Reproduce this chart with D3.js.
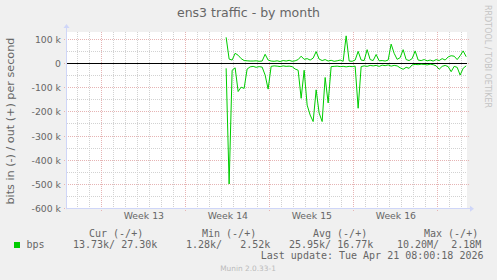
<!DOCTYPE html>
<html lang="en">
<head>
<meta charset="utf-8">
<title>ens3 traffic - by month</title>
<script src="https://d3js.org/d3.v7.min.js"></script>
<style>
  body { margin: 0; background: #f0f0f0; }
  svg { display: block; }
  text { font-family: "DejaVu Sans", sans-serif; fill: #666; }
  .mono { font-family: "DejaVu Sans Mono", monospace; font-size: 10px; fill: #666; }
</style>
</head>
<body>
<div id="chart"></div>
<script>

// data: k bits per second, one sample every 6 hours
// days counted from the start of week 13
var weekLabels = ["Week 13", "Week 14", "Week 15", "Week 16"];
var weekStarts = [0, 7, 14, 21, 28];
var yTicks = [100, 0, -100, -200, -300, -400, -500, -600];
var firstSampleDay = 10.4;
var sampleStep = 0.25;

var outK = [106, 16, 12, 40, 32, 18, 10, 9, 8, 8, 9, 7, 8, 36, 12, 8, 7, 9, 6, 10,
            8, 11, 7, 9, 14, 28, 15, 18, 12, 20, 47, 16, 10, 14, 8, 11, 7, 9, 12, 7,
            112, 8, 7, 12, 48, 12, 10, 55, 14, 10, 35, 9, 10, 8, 12, 78, 40, 15, 22, 55,
            14, 10, 18, 50, 12, 10, 14, 9, 12, 8, 14, 10, 18, 12, 25, 30, 28, 14, 30, 50,
            26];

var inK = [22, 500, 30, 20, 118, 100, 105, 25, 16, 14, 18, 15, 17, 50, 108, 14, 12, 13, 15, 12,
           14, 13, 15, 25, 30, 146, 30, 174, 215, 242, 111, 207, 242, 60, 165, 15, 14, 13, 15, 14,
           16, 14, 15, 13, 187, 15, 12, 14, 10, 12, 10, 14, 9, 11, 8, 13, 10, 12, 20, 26,
           18, 22, 8, 6, 7, 5, 6, 8, 5, 7, 12, 26, 14, 10, 15, 36, 14, 18, 50, 22,
           12];

var legendHeads = ["Cur (-/+)", "Min (-/+)", "Avg (-/+)", "Max (-/+)"];
var legendValues = ["13.73k/ 27.30k", " 1.28k/   2.52k", "25.95k/ 16.77k", "10.20M/  2.18M"];
var lastUpdate = "Last update: Tue Apr 21 08:00:18 2026";

// layout
var W = 497, H = 280;
var plotLeft = 67, plotRight = 467, plotTop = 32, plotBottom = 208.2;

var svg = d3.select("#chart").append("svg")
  .attr("width", W)
  .attr("height", H);

svg.append("rect")
  .attr("width", W).attr("height", H)
  .attr("fill", "#f0f0f0");

var x = d3.scaleLinear().domain([-2.86, 30.47]).range([plotLeft, plotRight]);
var y = d3.scaleLinear().domain([-600, 128]).range([plotBottom, plotTop]);

svg.append("rect")
  .attr("x", plotLeft).attr("y", plotTop)
  .attr("width", plotRight - plotLeft).attr("height", plotBottom - plotTop)
  .attr("fill", "#fff");

var crisp = function(v) { return Math.round(v) + 0.5; };

// grid: minor days / 50k, major weeks / 100k
var days = d3.range(-2, 31).filter(function(d) { return weekStarts.indexOf(d) < 0; });
var halfTicks = d3.range(-550, 128, 100);
var minorColor = "#d2d2d2", majorColor = "#e6b4b4";

var grid = svg.append("g");

grid.selectAll(".vminor").data(days).enter().append("line")
  .attr("x1", function(d) { return crisp(x(d)); })
  .attr("x2", function(d) { return crisp(x(d)); })
  .attr("y1", plotTop).attr("y2", plotBottom)
  .attr("stroke", minorColor)
  .attr("stroke-dasharray", "1,1");

grid.selectAll(".hminor").data(halfTicks).enter().append("line")
  .attr("x1", plotLeft).attr("x2", plotRight)
  .attr("y1", function(d) { return crisp(y(d)); })
  .attr("y2", function(d) { return crisp(y(d)); })
  .attr("stroke", minorColor)
  .attr("stroke-dasharray", "1,1");

grid.selectAll(".vmajor").data(weekStarts).enter().append("line")
  .attr("x1", function(d) { return crisp(x(d)); })
  .attr("x2", function(d) { return crisp(x(d)); })
  .attr("y1", plotTop).attr("y2", plotBottom + 3)
  .attr("stroke", majorColor)
  .attr("stroke-dasharray", "1,1");

grid.selectAll(".hmajor").data(yTicks).enter().append("line")
  .attr("x1", plotLeft - 3).attr("x2", plotRight + 2)
  .attr("y1", function(d) { return crisp(y(d)); })
  .attr("y2", function(d) { return crisp(y(d)); })
  .attr("stroke", majorColor)
  .attr("stroke-dasharray", "1,1");

// axes lines + arrows
var axisColor = "#cfd6f8";
svg.append("line")
  .attr("x1", crisp(plotLeft) - 1).attr("x2", crisp(plotLeft) - 1)
  .attr("y1", plotBottom + 1).attr("y2", plotTop - 5)
  .attr("stroke", axisColor);
svg.append("path")
  .attr("d", "M" + (plotLeft - 3.5) + "," + (plotTop - 4) + "L" + (plotLeft + 2.5) + "," + (plotTop - 4) + "L" + (plotLeft - 0.5) + "," + (plotTop - 8) + "Z")
  .attr("fill", axisColor);
svg.append("line")
  .attr("x1", plotLeft - 1).attr("x2", plotRight + 3)
  .attr("y1", crisp(plotBottom)).attr("y2", crisp(plotBottom))
  .attr("stroke", axisColor);
svg.append("path")
  .attr("d", "M" + (plotRight + 3) + "," + (plotBottom - 2.5) + "L" + (plotRight + 3) + "," + (plotBottom + 3.5) + "L" + (plotRight + 7) + "," + (plotBottom + 0.5) + "Z")
  .attr("fill", axisColor);

// y tick labels
var yAxis = d3.axisLeft(y)
  .tickValues(yTicks)
  .tickSize(0)
  .tickPadding(6)
  .tickFormat(function(d) { return d === 0 ? "0" : d + " k"; });

var ya = svg.append("g")
  .attr("transform", "translate(" + plotLeft + ",0.5)")
  .call(yAxis);
ya.select(".domain").remove();
ya.selectAll("text")
  .attr("font-family", "DejaVu Sans")
  .attr("font-size", "9.3px")
  .attr("fill", "#666");

// x labels, centred in each week
var xAxis = d3.axisBottom(x)
  .tickValues(weekStarts.slice(0, weekLabels.length).map(function(d) { return d + 3.5; }))
  .tickSize(0)
  .tickPadding(4)
  .tickFormat(function(d, i) { return weekLabels[i]; });

var xa = svg.append("g")
  .attr("transform", "translate(0," + plotBottom + ")")
  .call(xAxis);
xa.select(".domain").remove();
xa.selectAll("text")
  .attr("font-family", "DejaVu Sans")
  .attr("font-size", "9.3px")
  .attr("fill", "#666");

// zero rule
svg.append("line")
  .attr("x1", plotLeft).attr("x2", plotRight)
  .attr("y1", crisp(y(0))).attr("y2", crisp(y(0)))
  .attr("stroke", "#000")
  .attr("stroke-width", 1.2);

// series
var dayOf = function(d, i) { return firstSampleDay + i * sampleStep; };

var outLine = d3.line()
  .x(function(d, i) { return x(dayOf(d, i)); })
  .y(function(d) { return y(d); });

var inLine = d3.line()
  .x(function(d, i) { return x(dayOf(d, i)); })
  .y(function(d) { return y(-d); });

svg.append("path")
  .datum(inK)
  .attr("d", inLine)
  .attr("fill", "none")
  .attr("stroke", "#00cc00")
  .attr("stroke-width", 1);

svg.append("path")
  .datum(outK)
  .attr("d", outLine)
  .attr("fill", "none")
  .attr("stroke", "#00cc00")
  .attr("stroke-width", 1);

// title + labels
svg.append("text")
  .attr("x", 248.5).attr("y", 17)
  .attr("text-anchor", "middle")
  .attr("font-size", "12.5px")
  .text("ens3 traffic - by month");

svg.append("text")
  .attr("transform", "translate(14," + ((plotTop + plotBottom) / 2 + 1) + ") rotate(-90)")
  .attr("text-anchor", "middle")
  .attr("font-size", "11.2px")
  .text("bits in (-) / out (+) per second");

svg.append("text")
  .attr("transform", "translate(485,5) rotate(90)")
  .attr("font-size", "8px")
  .style("fill", "#c4c4c4")
  .text("RRDTOOL / TOBI OETIKER");

// legend
var headX = [89, 202, 313, 424];
var valX = [73, 180, 289, 397];

svg.selectAll(".head").data(legendHeads).enter().append("text")
  .attr("class", "mono")
  .attr("xml:space", "preserve")
  .attr("x", function(d, i) { return headX[i]; })
  .attr("y", 237)
  .text(function(d) { return d; });

svg.append("rect")
  .attr("x", 14).attr("y", 242)
  .attr("width", 6).attr("height", 6)
  .attr("fill", "#00cc00");

svg.append("text")
  .attr("class", "mono")
  .attr("x", 26.5).attr("y", 248)
  .text("bps");

svg.selectAll(".val").data(legendValues).enter().append("text")
  .attr("class", "mono")
  .attr("xml:space", "preserve")
  .attr("x", function(d, i) { return valX[i]; })
  .attr("y", 248)
  .text(function(d) { return d; });

svg.append("text")
  .attr("class", "mono")
  .attr("xml:space", "preserve")
  .attr("x", 483.5).attr("y", 259)
  .attr("text-anchor", "end")
  .text(lastUpdate);

svg.append("text")
  .attr("x", 248).attr("y", 271)
  .attr("text-anchor", "middle")
  .attr("font-size", "7.4px")
  .style("fill", "#bbb")
  .text("Munin 2.0.33-1");

</script>
</body>
</html>
